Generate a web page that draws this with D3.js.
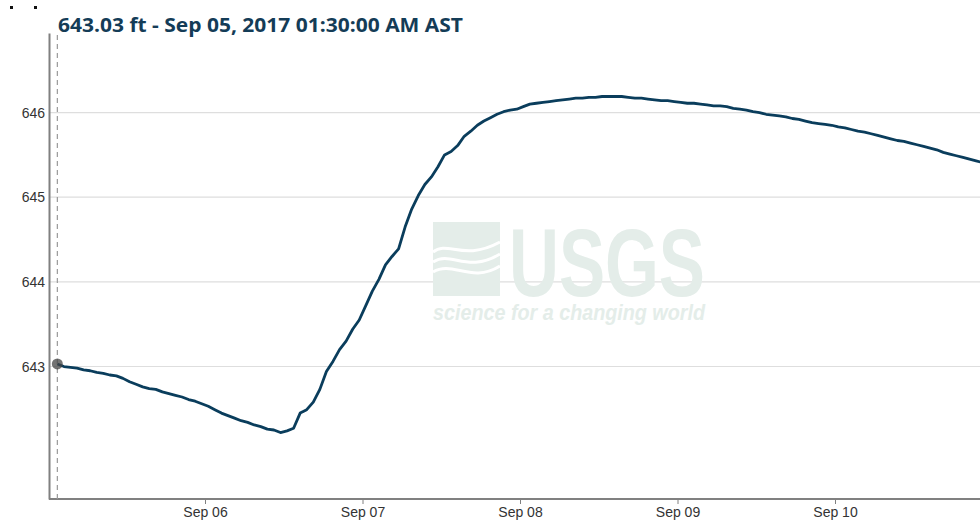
<!DOCTYPE html>
<html>
<head>
<meta charset="utf-8">
<script src="https://cdn.jsdelivr.net/npm/d3@7"></script>
<style>
  body { margin: 0; background: #fff; }
  svg { display: block; }
  .tick text { font-family: 'Liberation Sans', Arial, sans-serif; font-size: 14px; fill: #333; }
</style>
</head>
<body>
<div id="plot"></div>
<script>
// Chart constants
let margin = {t: 33, r: 0, b: 23, l: 49}
let width = 980
let height = 522

// Data: gage height (ft), hourly starting Sep 05 2017 01:30 AST
let startTime = new Date(2017, 8, 5, 1, 30)
let stepHours = 1
let gageValues = [
  643.03, 643.00, 642.99, 642.98, 642.96, 642.95, 642.93, 642.92, 642.90, 642.89,
  642.86, 642.82, 642.79, 642.76, 642.74, 642.73, 642.70, 642.68, 642.66, 642.64,
  642.61, 642.59, 642.56, 642.53, 642.49, 642.45, 642.42, 642.39, 642.36, 642.34,
  642.31, 642.29, 642.26, 642.25, 642.22, 642.24, 642.27, 642.45, 642.49, 642.58,
  642.73, 642.94, 643.06, 643.20, 643.30, 643.44, 643.55, 643.72, 643.89, 644.03,
  644.20, 644.30, 644.39, 644.65, 644.86, 645.02, 645.15, 645.24, 645.36, 645.50,
  645.54, 645.61, 645.72, 645.78, 645.85, 645.90, 645.94, 645.98, 646.01, 646.03,
  646.04, 646.07, 646.10, 646.11, 646.12, 646.13, 646.14, 646.15, 646.16, 646.17,
  646.17, 646.18, 646.18, 646.19, 646.19, 646.19, 646.19, 646.18, 646.17, 646.17,
  646.16, 646.15, 646.14, 646.14, 646.13, 646.12, 646.11, 646.11, 646.10, 646.09,
  646.08, 646.08, 646.07, 646.05, 646.04, 646.03, 646.01, 646.00, 645.98, 645.97,
  645.96, 645.95, 645.93, 645.92, 645.90, 645.88, 645.87, 645.86, 645.85, 645.83,
  645.82, 645.80, 645.78, 645.77, 645.75, 645.73, 645.71, 645.69, 645.67, 645.66,
  645.64, 645.62, 645.60, 645.58, 645.56, 645.53, 645.51, 645.49, 645.47, 645.45,
  645.43, 645.41, 645.39
]
let yTicks = [643, 644, 645, 646]
let xTicks = [new Date(2017, 8, 6), new Date(2017, 8, 7), new Date(2017, 8, 8), new Date(2017, 8, 9), new Date(2017, 8, 10)]
let titleText = '643.03 ft - Sep 05, 2017 01:30:00 AM AST'

let series = gageValues.map(function(v, i) {
  return {t: new Date(startTime.getTime() + i * stepHours * 3600000), v: v}
})

let svg = d3.select('#plot')
  .append('svg')
  .attr('width', width)
  .attr('height', height)

let x = d3.scaleTime()
  .domain([new Date(2017, 8, 5, 0, 0), new Date(2017, 8, 11, 0, 0)])
  .range([47.5, 47.5 + 6 * 157.5])

let y = d3.scaleLinear()
  .domain([641.435, 646.94])
  .range([height - margin.b, margin.t])

// Gridlines
svg.append('g')
  .selectAll('line')
  .data(yTicks)
  .enter().append('line')
  .attr('x1', margin.l)
  .attr('x2', width)
  .attr('y1', d => y(d))
  .attr('y2', d => y(d))
  .style('stroke', '#dedede')
  .style('stroke-width', 1.2)

// Watermark
let wm = svg.append('g').attr('transform', 'translate(433, 222)')
wm.append('rect')
  .attr('width', 67).attr('height', 74)
  .style('fill', '#e4ede9')
let waves = [
  'M0,30 C15,18 30,40 67,20',
  'M0,40 C18,28 34,52 67,32',
  'M0,50 C20,38 38,62 67,44'
]
wm.selectAll('path.wave')
  .data(waves)
  .enter().append('path')
  .attr('d', d => d)
  .style('fill', 'none')
  .style('stroke', '#fff')
  .style('stroke-width', 3)
wm.append('text')
  .attr('x', 76).attr('y', 74)
  .attr('textLength', 196)
  .attr('lengthAdjust', 'spacingAndGlyphs')
  .style('font-family', "'Liberation Sans Narrow', 'Liberation Sans', Arial, sans-serif")
  .style('font-weight', 'bold')
  .style('font-size', '96px')
  .style('fill', '#e4ede9')
  .text('USGS')
wm.append('text')
  .attr('x', 0).attr('y', 98)
  .attr('textLength', 272)
  .attr('lengthAdjust', 'spacingAndGlyphs')
  .style('font-family', "'Liberation Sans Narrow', 'Liberation Sans', Arial, sans-serif")
  .style('font-weight', 'bold')
  .style('font-style', 'italic')
  .style('font-size', '22px')
  .style('fill', '#e4ede9')
  .text('science for a changing world')

// Axes
let xAxis = d3.axisBottom(x)
  .tickValues(xTicks)
  .tickSize(5)
  .tickSizeOuter(0)
  .tickFormat(d3.timeFormat('%b %d'))

let gx = svg.append('g')
  .attr('transform', `translate(0, ${height - margin.b})`)
  .call(xAxis)
gx.select('.domain').attr('d', `M${margin.l},0H${width}`).style('stroke', '#808080').style('stroke-width', 2)
gx.selectAll('.tick line').style('stroke', '#808080')
gx.selectAll('.tick text').attr('y', 18).attr('dy', 0)

let yAxis = d3.axisLeft(y)
  .tickValues(yTicks)
  .tickSize(0)
  .tickPadding(4)
  .tickFormat(d3.format('d'))

let gy = svg.append('g')
  .attr('transform', `translate(${margin.l}, 0)`)
  .call(yAxis)
gy.select('.domain').style('stroke', '#808080').style('stroke-width', 2)

// Line
svg.append('clipPath').attr('id', 'clip')
  .append('rect')
  .attr('x', margin.l).attr('y', margin.t)
  .attr('width', width - margin.l).attr('height', height - margin.t - margin.b)

let line = d3.line()
  .x(d => x(d.t))
  .y(d => y(d.v))

svg.append('path')
  .datum(series)
  .attr('clip-path', 'url(#clip)')
  .attr('d', line)
  .style('fill', 'none')
  .style('stroke', '#0a3d5c')
  .style('stroke-width', 2.8)
  .style('stroke-linejoin', 'round')

// Cursor
let cur = series[0]
svg.append('line')
  .attr('x1', x(cur.t)).attr('x2', x(cur.t))
  .attr('y1', margin.t + 2).attr('y2', height - margin.b)
  .style('stroke', '#999')
  .style('stroke-width', 1.2)
  .style('stroke-dasharray', '5,4')

svg.append('circle')
  .attr('cx', x(cur.t)).attr('cy', y(cur.v))
  .attr('r', 5.5)
  .style('fill', '#444')
  .style('opacity', 0.75)

// Title
svg.append('text')
  .attr('x', 58).attr('y', 32)
  .attr('textLength', 405)
  .attr('lengthAdjust', 'spacingAndGlyphs')
  .style('font-family', "'Open Sans', sans-serif")
  .style('font-weight', 'bold')
  .style('font-size', '20px')
  .style('fill', '#143c57')
  .text(titleText)

// Stray marks top-left
svg.selectAll('rect.dot')
  .data([10, 34])
  .enter().append('rect')
  .attr('class', 'dot')
  .attr('x', d => d).attr('y', 6)
  .attr('width', 3).attr('height', 3)
  .style('fill', '#111')
</script>
</body>
</html>
